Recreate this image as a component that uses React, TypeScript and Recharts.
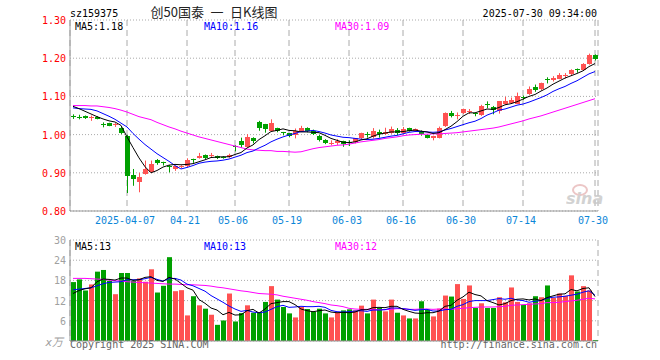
import React from 'react';
import { ComposedChart, Bar, Line, XAxis, YAxis, CartesianGrid } from 'recharts';

const dates = [
  '2025-03-24', '2025-03-25', '2025-03-26', '2025-03-27', '2025-03-28', '2025-03-31', '2025-04-01', '2025-04-02', '2025-04-03', '2025-04-07',
  '2025-04-08', '2025-04-09', '2025-04-10', '2025-04-11', '2025-04-14', '2025-04-15', '2025-04-16', '2025-04-17', '2025-04-18', '2025-04-21',
  '2025-04-22', '2025-04-23', '2025-04-24', '2025-04-25', '2025-04-28', '2025-04-29', '2025-04-30', '2025-05-06', '2025-05-07', '2025-05-08',
  '2025-05-09', '2025-05-12', '2025-05-13', '2025-05-14', '2025-05-15', '2025-05-16', '2025-05-19', '2025-05-20', '2025-05-21', '2025-05-22',
  '2025-05-23', '2025-05-26', '2025-05-27', '2025-05-28', '2025-05-29', '2025-05-30', '2025-06-03', '2025-06-04', '2025-06-05', '2025-06-06',
  '2025-06-09', '2025-06-10', '2025-06-11', '2025-06-12', '2025-06-13', '2025-06-16', '2025-06-17', '2025-06-18', '2025-06-19', '2025-06-20',
  '2025-06-23', '2025-06-24', '2025-06-25', '2025-06-26', '2025-06-27', '2025-06-30', '2025-07-01', '2025-07-02', '2025-07-03', '2025-07-04',
  '2025-07-07', '2025-07-08', '2025-07-09', '2025-07-10', '2025-07-11', '2025-07-14', '2025-07-15', '2025-07-16', '2025-07-17', '2025-07-18',
  '2025-07-21', '2025-07-22', '2025-07-23', '2025-07-24', '2025-07-25', '2025-07-28', '2025-07-29', '2025-07-30',
];

const open = [
  1.048, 1.047, 1.048, 1.045, 1.047, 1.027, 1.030, 1.025, 1.016, 0.997,
  0.895, 0.877, 0.897, 0.901, 0.933, 0.928, 0.919, 0.908, 0.915, 0.916,
  0.936, 0.939, 0.946, 0.945, 0.944, 0.942, 0.941, 0.970, 0.983, 0.969,
  0.991, 1.034, 1.027, 1.011, 1.016, 1.006, 1.003, 0.999, 1.010, 1.017,
  1.010, 0.997, 0.986, 0.977, 0.978, 0.982, 0.980, 0.979, 0.990, 1.002,
  0.994, 1.007, 1.001, 1.004, 1.011, 1.004, 1.017, 1.010, 1.010, 0.999,
  0.990, 0.992, 1.023, 1.056, 1.050, 1.055, 1.061, 1.056, 1.051, 1.079,
  1.071, 1.060, 1.080, 1.082, 1.082, 1.098, 1.106, 1.124, 1.118, 1.145,
  1.144, 1.147, 1.153, 1.159, 1.172, 1.169, 1.185, 1.209,
];

const high = [
  1.053, 1.052, 1.050, 1.050, 1.048, 1.032, 1.031, 1.030, 1.021, 0.999,
  0.910, 0.900, 0.932, 0.932, 0.936, 0.929, 0.920, 0.918, 0.920, 0.938,
  0.937, 0.952, 0.948, 0.952, 0.945, 0.943, 0.950, 0.972, 0.992, 1.001,
  0.993, 1.036, 1.028, 1.040, 1.018, 1.007, 1.004, 1.016, 1.023, 1.019,
  1.013, 0.999, 0.988, 0.985, 0.988, 0.984, 0.985, 0.991, 1.005, 1.007,
  1.017, 1.013, 1.018, 1.021, 1.017, 1.020, 1.018, 1.016, 1.011, 1.000,
  0.997, 1.021, 1.058, 1.062, 1.058, 1.068, 1.067, 1.057, 1.078, 1.087,
  1.075, 1.088, 1.099, 1.097, 1.110, 1.102, 1.126, 1.131, 1.136, 1.150,
  1.153, 1.161, 1.161, 1.171, 1.173, 1.187, 1.212, 1.210,
];

const low = [
  1.041, 1.040, 1.041, 1.036, 1.040, 1.019, 1.022, 1.020, 1.001, 0.847,
  0.866, 0.849, 0.895, 0.899, 0.921, 0.919, 0.901, 0.905, 0.912, 0.914,
  0.926, 0.937, 0.936, 0.940, 0.936, 0.937, 0.939, 0.956, 0.966, 0.966,
  0.977, 1.010, 1.005, 1.009, 1.006, 0.998, 0.993, 0.990, 1.008, 1.006,
  0.999, 0.982, 0.975, 0.972, 0.973, 0.968, 0.970, 0.977, 0.988, 0.992,
  0.990, 0.992, 0.999, 1.002, 0.999, 1.002, 1.008, 1.008, 0.997, 0.990,
  0.985, 0.990, 1.020, 1.045, 1.040, 1.054, 1.054, 1.048, 1.049, 1.069,
  1.053, 1.055, 1.078, 1.080, 1.080, 1.091, 1.104, 1.112, 1.116, 1.134,
  1.139, 1.145, 1.147, 1.155, 1.162, 1.167, 1.183, 1.194,
];

const close = [
  1.047, 1.046, 1.044, 1.047, 1.042, 1.025, 1.023, 1.027, 1.004, 0.892,
  0.884, 0.890, 0.910, 0.923, 0.925, 0.926, 0.918, 0.917, 0.917, 0.933,
  0.935, 0.945, 0.938, 0.947, 0.938, 0.940, 0.947, 0.968, 0.973, 0.995,
  0.983, 1.018, 1.014, 1.031, 1.008, 1.005, 0.995, 1.010, 1.018, 1.008,
  1.001, 0.986, 0.977, 0.979, 0.983, 0.975, 0.979, 0.990, 1.003, 1.000,
  1.010, 1.001, 1.007, 1.015, 1.004, 1.015, 1.010, 1.014, 1.003, 0.992,
  0.996, 1.018, 1.056, 1.049, 1.052, 1.066, 1.063, 1.054, 1.075, 1.077,
  1.062, 1.087, 1.089, 1.091, 1.102, 1.097, 1.119, 1.115, 1.135, 1.143,
  1.148, 1.157, 1.155, 1.169, 1.170, 1.185, 1.209, 1.198,
];

const ma5 = [
  1.074, 1.068, 1.061, 1.054, 1.047, 1.041, 1.036, 1.033, 1.024, 0.994,
  0.966, 0.939, 0.916, 0.900, 0.906, 0.915, 0.920, 0.922, 0.921, 0.922,
  0.924, 0.929, 0.934, 0.940, 0.941, 0.942, 0.942, 0.948, 0.953, 0.965,
  0.973, 0.987, 0.997, 1.008, 1.011, 1.015, 1.011, 1.010, 1.007, 1.007,
  1.006, 1.005, 0.998, 0.990, 0.985, 0.980, 0.979, 0.981, 0.986, 0.989,
  0.996, 1.001, 1.004, 1.007, 1.007, 1.008, 1.010, 1.012, 1.009, 1.007,
  1.003, 1.005, 1.013, 1.022, 1.034, 1.048, 1.057, 1.057, 1.062, 1.067,
  1.066, 1.071, 1.078, 1.081, 1.086, 1.093, 1.100, 1.105, 1.114, 1.122,
  1.132, 1.140, 1.148, 1.154, 1.160, 1.167, 1.178, 1.186,
];

const ma10 = [
  1.070, 1.068, 1.067, 1.066, 1.062, 1.055, 1.048, 1.040, 1.030, 1.020,
  1.003, 0.988, 0.974, 0.962, 0.950, 0.940, 0.930, 0.919, 0.910, 0.914,
  0.919, 0.925, 0.928, 0.930, 0.931, 0.933, 0.936, 0.941, 0.946, 0.953,
  0.957, 0.965, 0.972, 0.981, 0.988, 0.994, 0.999, 1.003, 1.008, 1.009,
  1.011, 1.008, 1.004, 0.999, 0.996, 0.993, 0.992, 0.990, 0.988, 0.987,
  0.988, 0.990, 0.993, 0.996, 0.998, 1.002, 1.006, 1.008, 1.008, 1.007,
  1.006, 1.007, 1.012, 1.016, 1.021, 1.026, 1.031, 1.035, 1.042, 1.051,
  1.057, 1.064, 1.067, 1.072, 1.077, 1.080, 1.085, 1.091, 1.097, 1.104,
  1.113, 1.120, 1.126, 1.134, 1.141, 1.150, 1.159, 1.165,
];

const ma30 = [
  1.076, 1.076, 1.076, 1.075, 1.075, 1.073, 1.071, 1.068, 1.064, 1.059,
  1.053, 1.047, 1.043, 1.039, 1.032, 1.026, 1.020, 1.015, 1.009, 1.004,
  0.999, 0.994, 0.990, 0.986, 0.982, 0.978, 0.974, 0.970, 0.966, 0.962,
  0.960, 0.959, 0.958, 0.958, 0.956, 0.956, 0.955, 0.954, 0.955, 0.959,
  0.963, 0.966, 0.968, 0.970, 0.972, 0.973, 0.975, 0.978, 0.981, 0.983,
  0.985, 0.987, 0.990, 0.992, 0.994, 0.997, 0.999, 1.000, 1.001, 1.001,
  1.002, 1.002, 1.003, 1.004, 1.005, 1.007, 1.009, 1.011, 1.013, 1.015,
  1.017, 1.020, 1.024, 1.028, 1.032, 1.036, 1.041, 1.045, 1.049, 1.054,
  1.059, 1.064, 1.069, 1.074, 1.079, 1.084, 1.089, 1.094,
];

// volume, unit: 万
const volume = [
  17.5, 18.3, 15.0, 16.8, 20.6, 21.1, 17.9, 13.9, 20.2, 20.2,
  17.9, 18.6, 17.6, 21.3, 14.4, 16.4, 24.9, 14.8, 15.1, 7.6,
  13.3, 10.6, 9.6, 7.8, 4.8, 6.1, 14.1, 5.8, 8.3, 10.6,
  8.4, 8.4, 11.6, 16.3, 12.3, 10.1, 8.2, 7.0, 10.1, 9.5,
  8.7, 9.6, 8.2, 7.0, 8.4, 9.1, 9.4, 9.1, 10.5, 8.2,
  12.3, 9.8, 8.8, 12.3, 8.4, 7.6, 6.7, 6.7, 11.8, 9.3,
  7.3, 9.6, 13.5, 13.2, 16.9, 12.5, 16.5, 9.8, 11.2, 9.8,
  9.8, 13.0, 11.5, 15.9, 11.6, 10.7, 11.2, 13.3, 13.0, 16.5,
  12.8, 14.1, 13.4, 19.5, 14.7, 16.3, 15.0, 0.3,
];

const vma5 = [
  14.1, 15.0, 15.5, 15.8, 17.6, 18.4, 18.3, 18.1, 18.7, 18.7,
  18.0, 18.2, 18.9, 19.1, 18.0, 17.7, 18.9, 18.4, 17.1, 15.8,
  15.1, 12.3, 11.2, 9.8, 9.2, 7.8, 8.5, 7.7, 7.8, 9.0,
  9.4, 8.3, 9.5, 11.1, 11.4, 11.7, 11.7, 10.8, 9.5, 9.0,
  8.7, 9.0, 9.2, 8.6, 8.4, 8.5, 8.4, 8.6, 9.3, 9.3,
  9.9, 10.0, 9.9, 10.3, 10.3, 9.4, 8.8, 8.3, 8.2, 8.4,
  8.4, 8.9, 10.3, 10.6, 12.1, 13.1, 14.5, 13.8, 13.4, 12.0,
  11.4, 10.7, 11.1, 12.0, 12.4, 12.5, 12.2, 12.5, 12.0, 12.9,
  13.4, 13.9, 14.0, 15.3, 14.9, 15.6, 15.8, 13.2,
];

const vma10 = [
  15.2, 15.4, 15.6, 15.8, 16.4, 17.0, 17.4, 17.5, 17.6, 18.2,
  18.2, 18.2, 18.5, 18.9, 18.3, 17.8, 18.5, 18.6, 18.1, 16.9,
  16.4, 15.6, 14.8, 13.5, 12.5, 11.5, 10.4, 9.5, 8.8, 9.1,
  8.6, 8.4, 8.6, 9.4, 10.2, 10.6, 10.0, 10.1, 10.3, 10.2,
  10.2, 10.3, 10.0, 9.1, 8.7, 8.6, 8.7, 8.9, 9.0, 8.8,
  9.2, 9.2, 9.3, 9.8, 9.8, 9.6, 9.4, 9.1, 9.3, 9.4,
  8.9, 8.9, 9.3, 9.4, 10.3, 10.8, 11.7, 12.0, 12.0, 12.0,
  12.3, 12.6, 12.4, 12.7, 12.2, 12.0, 11.5, 11.8, 12.0, 12.7,
  13.0, 13.1, 13.3, 13.6, 13.9, 14.5, 14.9, 13.6,
];

const vma30 = [
  18.6, 18.6, 18.6, 18.5, 18.4, 18.3, 18.1, 17.9, 17.8, 17.6,
  17.5, 17.4, 17.3, 17.2, 17.1, 17.0, 16.9, 16.9, 16.8, 16.7,
  16.7, 16.6, 16.5, 16.3, 16.0, 15.8, 15.5, 15.2, 14.9, 14.7,
  14.4, 14.1, 14.0, 13.9, 13.7, 13.3, 13.0, 12.7, 12.4, 12.1,
  11.7, 11.4, 11.1, 10.7, 10.5, 10.2, 9.7, 9.5, 9.4, 9.4,
  9.3, 9.3, 9.3, 9.4, 9.6, 9.6, 9.4, 9.4, 9.5, 9.5,
  9.4, 9.5, 9.5, 9.4, 9.6, 9.7, 9.9, 10.0, 10.1, 10.1,
  10.1, 10.2, 10.3, 10.6, 10.7, 10.8, 10.9, 11.0, 11.1, 11.4,
  11.4, 11.5, 11.7, 11.9, 12.1, 12.4, 12.7, 12.5,
];

const priceTicks = [0.8, 0.9, 1.0, 1.1, 1.2, 1.3];
const volumeTicks = [0, 6, 12, 18, 24, 30];
const volumeMax = 30;
const dateTicks = ['2025-04-07', '2025-04-21', '2025-05-06', '2025-05-19', '2025-06-03', '2025-06-16', '2025-06-30', '2025-07-14', '2025-07-30'];
const dateTickLabels = ['2025-04-07', '04-21', '05-06', '05-19', '06-03', '06-16', '06-30', '07-14', '07-30'];

const RED = '#ff5252';
const GREEN = '#00a000';
const FRAME = '#999999';
const GRID = '#aaaaaa';
const VOL_LABEL = '#a0a0a0';
const MONO = '"DejaVu Sans Mono", "Noto Sans CJK SC", monospace';

const rows = dates.map((date, i) => ({
  date,
  open: open[i],
  high: high[i],
  low: low[i],
  close: close[i],
  volume: volume[i],
  ma5: ma5[i],
  ma10: ma10[i],
  ma30: ma30[i],
  vma5: vma5[i],
  vma10: vma10[i],
  vma30: vma30[i],
  up: close[i] >= open[i],
}));

// candle: the bar gets [low, high] from the y scale, open/close are placed inside it
const Candle = (props: any) => {
  const { x, y, height, payload } = props;
  if (!payload || x == null || y == null) return null;
  const top = Math.min(y, y + height);
  const h = Math.abs(height);
  const k = payload.high > payload.low ? h / (payload.high - payload.low) : 0;
  const yO = top + (payload.high - payload.open) * k;
  const yC = top + (payload.high - payload.close) * k;
  const left = Math.floor(x);
  const cx = left + 2.5;
  const color = payload.up ? RED : GREEN;
  const bodyTop = Math.round(Math.min(yO, yC));
  const bodyH = Math.max(1, Math.round(Math.abs(yO - yC)));
  return (
    <g>
      <line x1={cx} x2={cx} y1={top} y2={top + h} stroke={color} strokeWidth={1} />
      <rect x={left} y={bodyTop} width={5} height={bodyH} fill={color} />
    </g>
  );
};

const VolBar = (props: any) => {
  const { x, y, height, payload } = props;
  if (!payload || x == null || y == null) return null;
  const top = Math.min(y, y + height);
  return <rect x={Math.floor(x)} y={top} width={5} height={Math.abs(height)} fill={payload.up ? RED : GREEN} />;
};

const DateTick = (props: any) => {
  const { x, y, payload } = props;
  const idx = dateTicks.indexOf(payload.value);
  return (
    <text x={x - 2} y={y + 13} textAnchor="middle" fill="#0b86d8" fontSize={10} fontFamily={MONO}>
      {idx >= 0 ? dateTickLabels[idx] : ''}
    </text>
  );
};

const PriceTick = (props: any) => {
  const { x, y, payload } = props;
  return (
    <text x={x} y={y + 4} textAnchor="end" fill="#ff0000" fontSize={10} fontFamily={MONO}>
      {Number(payload.value).toFixed(2)}
    </text>
  );
};

const VolTick = (props: any) => {
  const { x, y, payload } = props;
  const v = Number(payload.value);
  if (v === volumeMax) return null; // top label is written with the header texts
  return (
    <text x={v === 0 ? x - 3 : x} y={v === 0 ? y + 5 : y + 4} textAnchor="end" fill={VOL_LABEL} fontSize={v === 0 ? 11 : 10} fontFamily={MONO} fontStyle={v === 0 ? 'italic' : 'normal'}>
      {v === 0 ? 'x万' : String(v)}
    </text>
  );
};

export default function App() {
  return (
    <div style={{ position: 'fixed', left: 0, top: 0, width: 660, height: 360, background: '#fff', overflow: 'hidden' }}>
      <div style={{ position: 'absolute', left: 0, top: 0 }}>
        <ComposedChart width={660} height={230} data={rows} margin={{ top: 20, right: 62, bottom: 0, left: 0 }}>
          <CartesianGrid vertical={false} stroke={GRID} strokeDasharray="1 2" />
          <CartesianGrid horizontal={false} stroke={GRID} strokeDasharray="6 4" />
          <XAxis dataKey="date" ticks={dateTicks} interval={0} height={19} tickSize={0} tickMargin={0} tickLine={false} axisLine={{ stroke: FRAME }} tick={<DateTick />} />
          <XAxis xAxisId="top" dataKey="date" orientation="top" height={0} tick={false} tickLine={false} axisLine={{ stroke: FRAME }} />
          <YAxis domain={[0.8, 1.3]} allowDataOverflow ticks={priceTicks} interval={0} width={70} tickSize={0} tickMargin={4} tickLine={false} axisLine={{ stroke: FRAME }} tick={<PriceTick />} />
          <YAxis yAxisId="right" orientation="right" domain={[0.8, 1.3]} allowDataOverflow width={0} tick={false} tickLine={false} axisLine={{ stroke: FRAME }} />
          <Bar dataKey={(d: any) => [d.low, d.high]} barSize={5} shape={<Candle />} isAnimationActive={false} />
          <Line dataKey="ma30" stroke="#ff00ff" strokeWidth={1} dot={false} isAnimationActive={false} />
          <Line dataKey="ma10" stroke="#0000ff" strokeWidth={1} dot={false} isAnimationActive={false} />
          <Line dataKey="ma5" stroke="#000000" strokeWidth={1} dot={false} isAnimationActive={false} />
        </ComposedChart>
      </div>
      <div style={{ position: 'absolute', left: 0, top: 230 }}>
        <ComposedChart width={660} height={130} data={rows} margin={{ top: 10, right: 62, bottom: 0, left: 0 }}>
          <CartesianGrid vertical={false} stroke={GRID} strokeDasharray="1 2" />
          <CartesianGrid horizontal={false} stroke={GRID} strokeDasharray="6 4" />
          <XAxis dataKey="date" ticks={dateTicks} interval={0} height={19} tick={false} tickLine={false} axisLine={{ stroke: FRAME }} />
          <XAxis xAxisId="top" dataKey="date" orientation="top" height={0} tick={false} tickLine={false} axisLine={{ stroke: FRAME }} />
          <YAxis type="number" domain={[0, volumeMax]} allowDataOverflow ticks={volumeTicks} interval={0} width={70} tickSize={0} tickMargin={4} tickLine={false} axisLine={{ stroke: FRAME }} tick={<VolTick />} />
          <YAxis yAxisId="right" orientation="right" domain={[0, volumeMax]} allowDataOverflow width={0} tick={false} tickLine={false} axisLine={{ stroke: FRAME }} />
          <Bar dataKey="volume" barSize={5} shape={<VolBar />} isAnimationActive={false} />
          <Line dataKey="vma30" stroke="#ff00ff" strokeWidth={1} dot={false} isAnimationActive={false} />
          <Line dataKey="vma10" stroke="#0000ff" strokeWidth={1} dot={false} isAnimationActive={false} />
          <Line dataKey="vma5" stroke="#000000" strokeWidth={1} dot={false} isAnimationActive={false} />
        </ComposedChart>
      </div>
      <svg width={660} height={360} style={{ position: 'absolute', left: 0, top: 0, pointerEvents: 'none' }}>
        <g fontFamily={MONO} fontSize={10}>
          <text x={70} y={17} fill="#000">sz159375</text>
          <text x={597} y={17} fill="#000" textAnchor="end">2025-07-30 09:34:00</text>
          <text x={75} y={30} fill="#000">MA5:1.18</text>
          <text x={204} y={30} fill="#0000ff">MA10:1.16</text>
          <text x={335} y={30} fill="#ff00ff">MA30:1.09</text>
          <text x={66} y={244} fill={VOL_LABEL} textAnchor="end">{String(volumeMax)}</text>
          <text x={75} y={250} fill="#000">MA5:13</text>
          <text x={204} y={250} fill="#0000ff">MA10:13</text>
          <text x={335} y={250} fill="#ff00ff">MA30:12</text>
          <text x={70} y={348} fill="#666">Copyright 2025 SINA.COM</text>
          <text x={597} y={348} fill="#666" textAnchor="end">http://finance.sina.com.cn</text>
        </g>
        <text x={214} y={17} textAnchor="middle" fill="#222" fontSize={13} fontFamily='"Noto Sans CJK SC", sans-serif' style={{ whiteSpace: 'pre' }}>
          {'创50国泰\u2002一\u2002日K线图'}
        </text>
        <g opacity={0.8}>
          <ellipse cx={580} cy={190} rx={7} ry={5} fill="none" stroke="#e8b8b8" strokeWidth={2} />
          <text x={566} y={204} fill="#c8c8c8" fontSize={16} fontWeight="bold" fontStyle="italic" fontFamily='"DejaVu Sans", sans-serif'>sina</text>
        </g>
      </svg>
    </div>
  );
}
